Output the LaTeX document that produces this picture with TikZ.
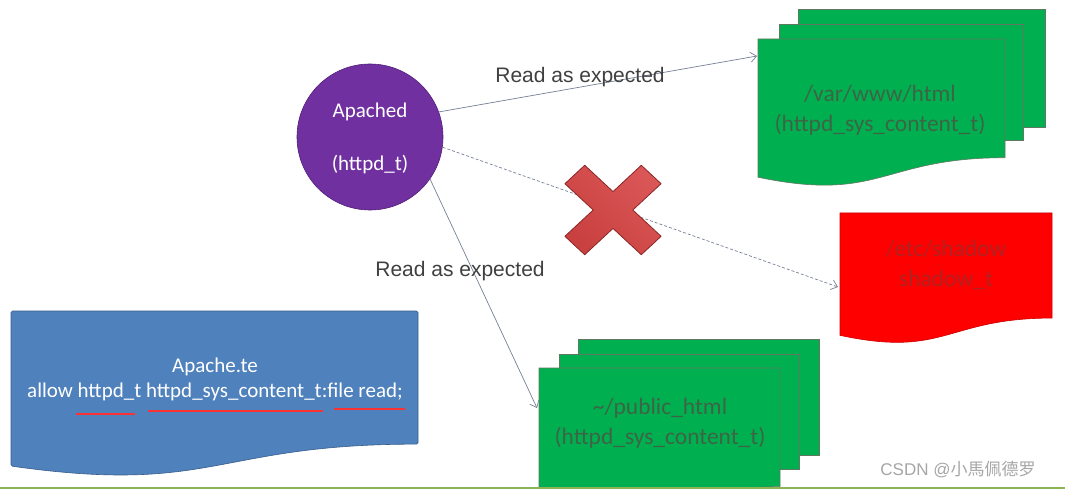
\documentclass[tikz,border=0pt]{standalone}
\usepackage{fontspec}
\setmainfont{Carlito}
\newfontfamily\arialfont{Liberation Sans}
\newfontfamily\cjkfont{Noto Sans CJK SC}
\usetikzlibrary{arrows.meta}
\definecolor{pgreen}{RGB}{0,176,80}
\definecolor{pgreenline}{RGB}{96,120,96}
\definecolor{pgreentext}{RGB}{62,100,70}
\definecolor{pred}{RGB}{255,0,0}
\definecolor{predtext}{RGB}{178,34,34}
\definecolor{pblue}{RGB}{79,129,189}
\definecolor{pblueline}{RGB}{56,93,138}
\definecolor{ppurple}{RGB}{112,48,160}
\definecolor{ppurpleline}{RGB}{80,30,120}
\definecolor{parrow}{RGB}{118,128,150}
\definecolor{plabel}{RGB}{64,64,64}
\definecolor{pxfill}{RGB}{214,68,68}
\definecolor{pxline}{RGB}{140,36,36}
\definecolor{pbar}{RGB}{141,180,84}
\definecolor{punder}{RGB}{250,50,50}
\newcommand{\docshape}[7]{% fill, draw, x1, y1, x2, h, extra options
  \path[fill=#1,draw=#2,line width=0.6pt,#7] (#3,#4) -- (#5,#4) -- (#5,{#4+0.802*#6})
    .. controls ({(#3+#5)/2},{#4+0.802*#6}) and ({(#3+#5)/2},{#4+1.1075*#6}) .. (#3,{#4+0.934*#6}) -- cycle;}
\tikzset{
  conn/.style={draw=parrow,line width=0.7pt,-{Straight Barb[length=6pt,width=10pt]}},
  lbl/.style={font=\arialfont\fontsize{21}{24}\selectfont,text=plabel,inner sep=0pt},
  gtext/.style={font=\fontsize{23.5}{28}\selectfont,text=pgreentext,align=center,inner sep=0pt},
  wtext/.style={font=\fontsize{21}{24}\selectfont,text=white,inner sep=0pt},
  sheet/.style={fill=pgreen,draw=pgreenline,line width=0.6pt},
  uline/.style={draw=punder,line width=2.6pt},
}
\begin{document}
\begin{tikzpicture}[x=1pt,y=-1pt]
\useasboundingbox (0,0) rectangle (1065,489);
\clip (0,0) rectangle (1065,489);
\fill[white] (0,0) rectangle (1065,489);

% top multidocument
\path[sheet] (798,9) rectangle (1045,127);
\path[sheet] (779,24) rectangle (1023,140);
\docshape{pgreen}{pgreenline}{758}{39}{1005}{148}{}
\node[gtext] (var) at (880,110) {/var/www/html\\[2pt](httpd\_sys\_content\_t)};

% bottom multidocument
\path[sheet] (578,339) rectangle (819,455);
\path[sheet] (559,354) rectangle (799,469);
\docshape{pgreen}{pgreenline}{539}{368}{780}{148}{}
\node[gtext] (pub) at (660,423) {\textasciitilde/public\_html\\[2pt](httpd\_sys\_content\_t)};

% red document
\docshape{pred}{pred!80!black}{840}{213}{1052}{131}{}
\node[gtext,text=predtext] (shadow) at (946,265) {/etc/shadow\\[2pt]shadow\_t};

% blue document
\docshape{pblue}{pblueline}{11}{311}{418}{166}{rounded corners=1.5pt}
\node[wtext] (apte) at (215,367) {Apache.te};
\node[wtext] (rule) at (215,392) {allow httpd\_t httpd\_sys\_content\_t:file read;};
\draw[uline] (76,414) -- (135,414);
\draw[uline] (148,411) -- (323,411);
\draw[uline] (334,409) -- (405,409);

% circle
\node[circle,minimum size=146pt,inner sep=0pt,fill=ppurple,draw=ppurpleline,line width=0.6pt] (ap) at (370,137) {};
\node[wtext] (apname) at (370,112) {Apached};
\node[wtext] (aptype) at (370,165) {(httpd\_t)};

% connector end points
\coordinate (e1) at (757,56);
\coordinate (e2) at (838,287);
\coordinate (e3) at (537,408);

\draw[conn] (ap.20) -- (e1);
\draw[conn,dashed,dash pattern=on 3pt off 2pt] (ap.-8) -- (e2);
\draw[conn] (ap.-35) -- (e3);

\node[lbl] (l1) at (580,77) {Read as expected};
\node[lbl] (l2) at (460,271) {Read as expected};

% red X
\begin{scope}[shift={(613,210)},yscale=0.93,rotate=45]
  \path[top color=pxfill!90!white,bottom color=pxfill!94!black,shading angle=-45,draw=pxline,line width=0.8pt,line join=round]
    (-14,-54) -- (14,-54) -- (14,-14) -- (54,-14) -- (54,14) -- (14,14) -- (14,54)
    -- (-14,54) -- (-14,14) -- (-54,14) -- (-54,-14) -- (-14,-14) -- cycle;
\end{scope}

% bottom bar and watermark
\fill[pbar] (0,486.5) rectangle (1065,489);
\node[font=\arialfont\fontsize{17}{20}\selectfont,text=black!35,inner sep=0pt] (wm) at (958,470) {CSDN @{\cjkfont 小馬佩德罗}};
\end{tikzpicture}
\end{document}
